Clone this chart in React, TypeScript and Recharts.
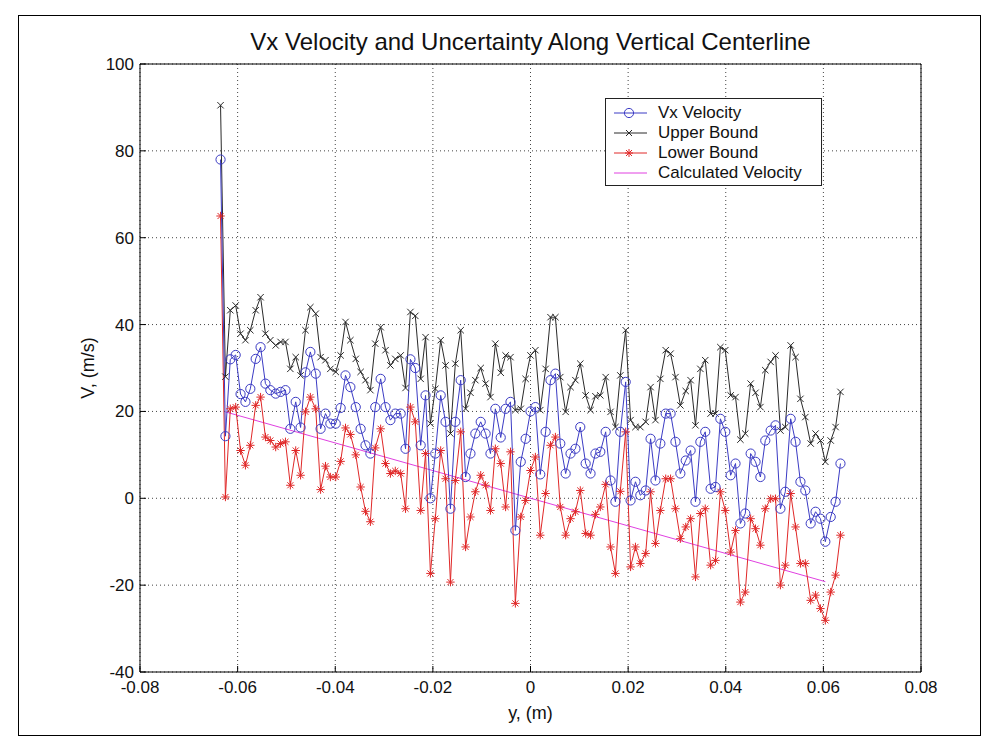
import React from 'react';
import { ComposedChart, Line, XAxis, YAxis, CartesianGrid, Legend } from 'recharts';

// y position across the channel (m)
const yPosition = [
  -0.0635, -0.0625, -0.0615, -0.0604, -0.0594, -0.0584, -0.0574, -0.0563, -0.0553, -0.0543,
  -0.0533, -0.0522, -0.0512, -0.0502, -0.0492, -0.0481, -0.0471, -0.0461, -0.0451, -0.044,
  -0.043, -0.042, -0.041, -0.0399, -0.0389, -0.0379, -0.0369, -0.0358, -0.0348, -0.0338,
  -0.0328, -0.0318, -0.0307, -0.0297, -0.0287, -0.0277, -0.0266, -0.0256, -0.0246, -0.0236,
  -0.0225, -0.0215, -0.0205, -0.0195, -0.0184, -0.0174, -0.0164, -0.0154, -0.0143, -0.0133,
  -0.0123, -0.0113, -0.0102, -0.0092, -0.0082, -0.0072, -0.0061, -0.0051, -0.0041, -0.0031,
  -0.002, -0.001, 0, 0.001, 0.002, 0.0031, 0.0041, 0.0051, 0.0061, 0.0072,
  0.0082, 0.0092, 0.0102, 0.0113, 0.0123, 0.0133, 0.0143, 0.0154, 0.0164, 0.0174,
  0.0184, 0.0195, 0.0205, 0.0215, 0.0225, 0.0236, 0.0246, 0.0256, 0.0266, 0.0277,
  0.0287, 0.0297, 0.0307, 0.0318, 0.0328, 0.0338, 0.0348, 0.0358, 0.0369, 0.0379,
  0.0389, 0.0399, 0.041, 0.042, 0.043, 0.044, 0.0451, 0.0461, 0.0471, 0.0481,
  0.0492, 0.0502, 0.0512, 0.0522, 0.0533, 0.0543, 0.0553, 0.0563, 0.0574, 0.0584,
  0.0594, 0.0604, 0.0615, 0.0625, 0.0635,
];

const vxVelocity = [
  78, 14.3, 32, 33, 24, 22.2, 25.2, 32.1, 34.8, 26.4,
  24.9, 24.1, 24.5, 24.9, 16, 22.2, 16.3, 29, 33.7, 28.7,
  16, 19.5, 17.2, 17.2, 20.8, 28.3, 25.6, 21, 16, 12.2,
  10.3, 21, 27.5, 21, 18, 19.5, 19.5, 11.4, 32, 30,
  12.2, 23.7, 0, 10.3, 23.7, 17.6, -2.4, 17.6, 27.2, 4.9,
  10.3, 14.9, 17.6, 14.9, 10.3, 20.6, 14, 20.6, 22.2, -7.4,
  8.4, 13.7, 20, 21, 5.5, 15.3, 27.2, 28.7, 12.6, 5.7,
  10.3, 11.4, 16.4, 8, 5.7, 10.3, 10.7, 15.3, 4.1, -0.8,
  15.3, 26.8, -0.5, 3.8, 0.7, 1.8, 13.7, 4.1, 12.6, 19.5,
  19.5, 13, 5.7, 8.7, 11, -0.8, 13, 15.3, 2.2, 2.6,
  18.3, 15.3, 5.3, 8, -5.8, -3.5, 10.3, 8.4, 4.9, 13.3,
  15.6, 16.8, -2.4, 1.5, 18.3, 13, 3.8, 1.8, -5.8, -3.1,
  -4.7, -10, -4.3, -0.8, 8,
];

const upperBound = [
  90.5, 28, 43.3, 44.4, 37.9, 36.4, 38.7, 43.3, 46.3, 37.9,
  36.4, 35.2, 36, 36, 29.8, 32.5, 28.3, 38.7, 44, 42.5,
  32.5, 31.8, 29.8, 29.1, 32.9, 40.6, 36.4, 32.1, 29.1, 27.2,
  24.9, 35.6, 39.4, 34.1, 30.6, 32.1, 32.9, 25.4, 42.9, 42,
  27.5, 37.1, 17.2, 25.2, 36.4, 30.6, 14.9, 31, 38.7, 20.6,
  24.3, 27.2, 30, 26.4, 23.3, 35.6, 28.9, 32.9, 32.5, 20.3,
  20.6, 27.5, 32.9, 34.1, 20.3, 29.8, 41.7, 41.7, 27.9, 19.9,
  25.6, 27.2, 31, 23.7, 20.3, 23.5, 23.7, 27.9, 19.9, 16.4,
  28.3, 38.7, 18, 16.4, 16.4, 17.6, 25.6, 18, 27.5, 34.1,
  33.3, 27.9, 21.4, 24.7, 27.2, 16.8, 29.8, 31.8, 19.5, 19.5,
  34.8, 34.1, 23.7, 23.3, 13.5, 14.9, 26.4, 24.3, 21, 29.5,
  31.4, 32.9, 15.6, 16.4, 35.2, 32.5, 22.9, 18.7, 12.6, 14.9,
  13.3, 8.4, 13.3, 16.4, 24.5,
];

const lowerBound = [
  65, 0.3, 20.6, 21, 11, 7.6, 12.2, 21.4, 23.3, 14.1,
  13.3, 11.8, 12.6, 13, 3, 11, 5.3, 19.9, 23.3, 20.6,
  2, 7.4, 4.9, 4.9, 8.5, 16.2, 14.7, 10, 2.6, -3,
  -5.4, 11.6, 16, 8, 5.7, 6.3, 5.7, -2.4, 21, 17.6,
  -2.8, 10.3, -17.3, -4.7, 11, 4.5, -19.3, 4.1, 15.3, -11.2,
  -4.3, 1.5, 5.3, 3, -2.8, 11.4, 8, -2, 10.7, -24.2,
  -4.3, -0.5, 6.4, 9.5, -8.5, 1.1, 12.2, 14.1, -2, -8.5,
  -4.7, -3.1, 1.8, -8.1, -8.5, -3.7, -2, 3.2, -11.2, -17.3,
  1.6, 15.3, -15.8, -11.2, -15, -12.7, 1.5, -10.4, -2.8, 4.5,
  4.5, -2.4, -9.3, -6.6, -4.7, -18.1, -3.5, -2.4, -15.4, -14.3,
  1.5, -2.8, -12.4, -7.4, -23.9, -21.6, -4.7, -7, -10.8, -2.4,
  -0.1, -0.1, -20, -15.4, 1.1, -6.6, -15, -15, -23.5, -22.3,
  -25.4, -28.1, -21.6, -17.7, -8.5,
];

const calcPosition = [-0.0625, 0.0604];
const calcVelocity = [19.9, -19.2];

const xTicks = [-0.08, -0.06, -0.04, -0.02, 0, 0.02, 0.04, 0.06, 0.08];
const yTicks = [-40, -20, 0, 20, 40, 60, 80, 100];

const BLUE = '#3b3bc4';
const BLACK = '#2a2a2a';
const RED = '#e02828';
const MAGENTA = '#e040e0';
const FONT = '"Liberation Sans", Arial, sans-serif';

const measured = yPosition.map((y, i) => ({
  y,
  vx: vxVelocity[i],
  upper: upperBound[i],
  lower: lowerBound[i],
}));
const calculated = calcPosition.map((y, i) => ({ y, calc: calcVelocity[i] }));

const CircleDot = (p: any) => {
  if (p.cx == null || p.cy == null) return <g key={`c${p.index}`} />;
  return <circle key={`c${p.index}`} cx={p.cx} cy={p.cy} r={4.6} fill="none" stroke={BLUE} strokeWidth={1} />;
};
const CrossDot = (p: any) => {
  if (p.cx == null || p.cy == null) return <g key={`x${p.index}`} />;
  const s = 3.2;
  const { cx, cy } = p;
  return (
    <path key={`x${p.index}`} d={`M${cx - s},${cy - s}L${cx + s},${cy + s}M${cx - s},${cy + s}L${cx + s},${cy - s}`} stroke={BLACK} strokeWidth={1} fill="none" />
  );
};
const StarDot = (p: any) => {
  if (p.cx == null || p.cy == null) return <g key={`s${p.index}`} />;
  const s = 4.2;
  const d = s * 0.72;
  const { cx, cy } = p;
  return (
    <path
      key={`s${p.index}`}
      d={`M${cx - s},${cy}L${cx + s},${cy}M${cx},${cy - s}L${cx},${cy + s}M${cx - d},${cy - d}L${cx + d},${cy + d}M${cx - d},${cy + d}L${cx + d},${cy - d}`}
      stroke={RED}
      strokeWidth={1}
      fill="none"
    />
  );
};

const legendItems = [
  { label: 'Vx Velocity', color: BLUE, marker: 'circle' },
  { label: 'Upper Bound', color: BLACK, marker: 'cross' },
  { label: 'Lower Bound', color: RED, marker: 'star' },
  { label: 'Calculated Velocity', color: MAGENTA, marker: 'none' },
];

const LegendMarker = ({ marker, color }: { marker: string; color: string }) => {
  const cx = 23;
  const cy = 10;
  if (marker === 'circle') return <circle cx={cx} cy={cy} r={4.6} fill="none" stroke={color} />;
  if (marker === 'cross')
    return <path d={`M${cx - 3},${cy - 3}L${cx + 3},${cy + 3}M${cx - 3},${cy + 3}L${cx + 3},${cy - 3}`} stroke={color} />;
  if (marker === 'star')
    return (
      <path
        d={`M${cx - 4},${cy}L${cx + 4},${cy}M${cx},${cy - 4}L${cx},${cy + 4}M${cx - 3},${cy - 3}L${cx + 3},${cy + 3}M${cx - 3},${cy + 3}L${cx + 3},${cy - 3}`}
        stroke={color}
      />
    );
  return null;
};

const LegendBox = () => (
  <div
    style={{
      width: 217,
      height: 88,
      border: '1px solid #222',
      background: '#fff',
      fontFamily: FONT,
      fontSize: 17,
      color: '#111',
      boxSizing: 'border-box',
      paddingTop: 4,
    }}
  >
    {legendItems.map((it) => (
      <div key={it.label} style={{ display: 'flex', alignItems: 'center', height: 20 }}>
        <svg width={52} height={20} style={{ marginLeft: 0 }}>
          <line x1={8} x2={41} y1={10} y2={10} stroke={it.color} strokeWidth={1} />
          <LegendMarker marker={it.marker} color={it.color} />
        </svg>
        <span style={{ whiteSpace: 'nowrap', lineHeight: '20px' }}>{it.label}</span>
      </div>
    ))}
  </div>
);

export default function App() {
  const tickStyle = { fontFamily: FONT, fontSize: 17, fill: '#111' };
  return (
    <div style={{ position: 'absolute', left: 0, top: 0, width: 998, height: 751, background: '#fff' }}>
      <div
        style={{
          position: 'absolute',
          left: 18,
          top: 15,
          width: 963,
          height: 721,
          border: '1px solid #000',
          boxSizing: 'border-box',
        }}
      />
      <div
        style={{
          position: 'absolute',
          left: 140,
          width: 781,
          top: 28,
          textAlign: 'center',
          fontFamily: FONT,
          fontSize: 24,
          color: '#111',
          whiteSpace: 'nowrap',
        }}
      >
        Vx Velocity and Uncertainty Along Vertical Centerline
      </div>
      <div
        style={{
          position: 'absolute',
          left: 140,
          width: 781,
          top: 703,
          textAlign: 'center',
          fontFamily: FONT,
          fontSize: 18,
          color: '#111',
        }}
      >
        y, (m)
      </div>
      <div
        style={{
          position: 'absolute',
          left: 88,
          top: 368,
          transform: 'translate(-50%, -50%) rotate(-90deg)',
          fontFamily: FONT,
          fontSize: 18,
          color: '#111',
          whiteSpace: 'nowrap',
        }}
      >
        V, (m/s)
      </div>
      <div style={{ position: 'absolute', left: 0, top: 0 }}>
        <ComposedChart
          width={998}
          height={751}
          data={measured}
          margin={{ top: 63, right: 76, bottom: 39, left: 80 }}
        >
          <CartesianGrid stroke="#444" strokeDasharray="1 3" />
          <XAxis
            dataKey="y"
            type="number"
            domain={[-0.08, 0.08]}
            ticks={xTicks}
            interval={0}
            allowDataOverflow
            height={40}
            tickSize={-6}
            tickMargin={15}
            stroke="#000"
            tick={tickStyle}
            tickFormatter={(v: number) => String(v)}
          />
          <XAxis
            xAxisId="top"
            orientation="top"
            dataKey="y"
            type="number"
            domain={[-0.08, 0.08]}
            ticks={xTicks}
            interval={0}
            height={1}
            tickSize={-6}
            tick={false}
            stroke="#000"
          />
          <YAxis
            type="number"
            domain={[-40, 100]}
            ticks={yTicks}
            interval={0}
            allowDataOverflow
            width={60}
            tickSize={-6}
            tickMargin={12}
            stroke="#000"
            tick={tickStyle}
          />
          <YAxis
            yAxisId="right"
            orientation="right"
            type="number"
            domain={[-40, 100]}
            ticks={yTicks}
            interval={0}
            width={1}
            tickSize={-6}
            tick={false}
            stroke="#000"
          />
          <Legend
            layout="vertical"
            align="center"
            verticalAlign="middle"
            wrapperStyle={{ position: 'absolute', left: 605, top: 98, width: 217 }}
            content={() => <LegendBox />}
          />
          <Line
            data={calculated}
            dataKey="calc"
            stroke={MAGENTA}
            strokeWidth={1}
            dot={false}
            isAnimationActive={false}
            name="Calculated Velocity"
          />
          <Line
            dataKey="upper"
            stroke={BLACK}
            strokeWidth={1}
            dot={CrossDot}
            isAnimationActive={false}
            name="Upper Bound"
          />
          <Line
            dataKey="lower"
            stroke={RED}
            strokeWidth={1}
            dot={StarDot}
            isAnimationActive={false}
            name="Lower Bound"
          />
          <Line
            dataKey="vx"
            stroke={BLUE}
            strokeWidth={1}
            dot={CircleDot}
            isAnimationActive={false}
            name="Vx Velocity"
          />
        </ComposedChart>
      </div>
    </div>
  );
}
